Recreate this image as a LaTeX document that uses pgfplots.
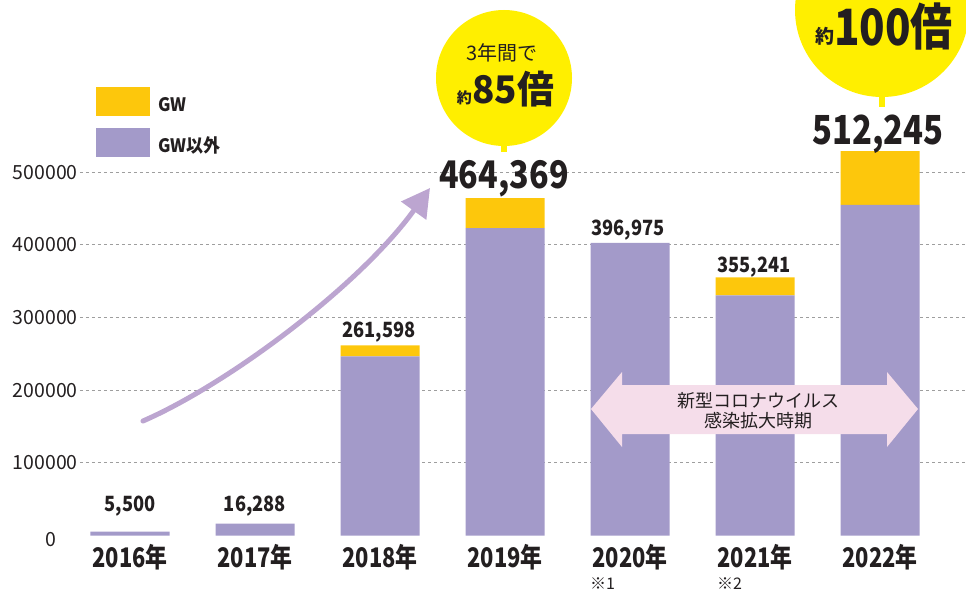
\documentclass[border=0pt]{standalone}
\usepackage{fontspec}
\setmainfont{Noto Sans CJK JP}
\usepackage{graphicx}
\usepackage{pgfplots}
\pgfplotsset{compat=1.18}
\usetikzlibrary{arrows.meta}
\definecolor{purp}{HTML}{A39AC9}
\definecolor{gold}{HTML}{FDC70C}
\definecolor{yel}{HTML}{FFEF00}
\definecolor{arrowc}{HTML}{BCA5D0}
\definecolor{pinkc}{HTML}{F5DDEA}
\definecolor{txt}{HTML}{231F20}
\definecolor{gridc}{HTML}{9E9E9E}
\newcommand\fs[1]{\fontsize{#1}{#1}\selectfont}
\newcommand\sx[2]{\scalebox{#1}[1]{#2}}
\newcommand\xl[1]{\sx{0.81}{#1}}
\begin{document}
\begin{tikzpicture}[every node/.append style={text=txt}]
\begin{axis}[
  scale only axis, width=886pt, height=535.5pt,
  xmin=-0.4, xmax=6.688, ymin=0, ymax=737200,
  ybar stacked, bar width=79pt,
  axis line style={draw=none},
  major tick length=0pt,
  xtick={0,1,2,3,4,5,6},
  xticklabels={\xl{2016年},\xl{2017年},\xl{2018年},\xl{2019年},\xl{2020年},\xl{2021年},\xl{2022年}},
  xticklabel style={anchor=base, inner sep=0pt, yshift=-31.5pt, font=\fs{27}\bfseries},
  ytick={100000,200000,300000,400000,500000},
  yticklabels={100000,200000,300000,400000,500000},
  yticklabel style={anchor=east, inner sep=0pt, xshift=-2pt, font=\fs{19.5}},
  ymajorgrids,
  major grid style={draw=gridc, line width=1pt, dash pattern=on 3pt off 3pt},
  legend style={at={(0.01806,0.8381)}, anchor=north west, draw=none, fill=none,
    inner sep=0pt, outer sep=0pt, column sep=8pt, row sep=12.7pt,
    font=\fs{18.5}\bfseries, nodes={inner sep=0pt, anchor=base west}},
  reverse legend,
]
\addplot[fill=purp, draw=none,
  legend image code/.code={\fill[purp] (0pt,-4.5pt) rectangle (54pt,24.5pt);}]
  coordinates {(0,5500) (1,16288) (2,246500) (3,423000) (4,403000) (5,330741) (6,455000)};
\addlegendentry{\sx{0.92}{GW以外}}
\addplot[fill=gold, draw=none,
  legend image code/.code={\fill[gold] (0pt,-4.5pt) rectangle (54pt,24.5pt);}]
  coordinates {(0,0) (1,0) (2,15098) (3,41369) (4,0) (5,24500) (6,74300)};
\addlegendentry{\sx{0.92}{GW}}
\draw[gridc, line width=1pt, dash pattern=on 3pt off 3pt] (axis cs:5.684,500000) -- (axis cs:6.316,500000);
\coordinate (O) at (rel axis cs:0,1);
\end{axis}
\pgfresetboundingbox
\begin{scope}[shift={([xshift=-80pt]O)}, x=1pt, y=-1pt]
\path[use as bounding box] (0,0) rectangle (966,590);
% growth arrow
\draw[arrowc, line width=5pt, line cap=round, -{Triangle[length=28pt, width=30pt]}]
  (143,421) .. controls (230,383) and (360,285) .. (430,188);
% covid double arrow
\fill[pinkc] (591,409) -- (622,372) -- (622,385) -- (887,385) -- (887,372) -- (918,409)
  -- (887,447) -- (887,434) -- (622,434) -- (622,447) -- cycle;
\node[align=center, inner sep=0pt, font=\fontsize{18}{20.5}\selectfont] at (758,410.5) {新型コロナウイルス\\感染拡大時期};
% bubbles
\begin{scope}
\clip (0,0) rectangle (966,590);
\fill[yel] (504,78) circle[radius=68pt];
\fill[yel] (501,140) rectangle (507,152);
\fill[yel] (882,10) circle[radius=87pt];
\fill[yel] (879,95) rectangle (885,107);
\end{scope}
\node[anchor=base, inner sep=0pt, font=\fs{20}] at (502,61) {3年間で};
\node[anchor=base east, inner sep=0pt, font=\fs{15}\bfseries] at (472,104) {約};
\node[anchor=base west, inner sep=0pt, font=\fs{38}\bfseries] at (472,104) {\sx{0.97}{85倍}};
\node[anchor=base east, inner sep=0pt, font=\fs{19}\bfseries] at (835,44) {約};
\node[anchor=base west, inner sep=0pt, font=\fs{50}\bfseries] at (834,46) {\sx{0.84}{100倍}};
% value labels
\node[anchor=base, inner sep=0pt, font=\fs{21}\bfseries] at (130,511) {\sx{0.87}{5,500}};
\node[anchor=base, inner sep=0pt, font=\fs{21}\bfseries] at (255,511) {\sx{0.87}{16,288}};
\node[anchor=base, inner sep=0pt, font=\fs{21}\bfseries] at (379,337) {\sx{0.87}{261,598}};
\node[anchor=base, inner sep=0pt, font=\fs{38}\bfseries] at (504,188) {\sx{0.85}{464,369}};
\node[anchor=base, inner sep=0pt, font=\fs{21}\bfseries] at (628,235) {\sx{0.87}{396,975}};
\node[anchor=base, inner sep=0pt, font=\fs{21}\bfseries] at (754,272) {\sx{0.87}{355,241}};
\node[anchor=base, inner sep=0pt, font=\fs{40}\bfseries] at (878,145) {\sx{0.82}{512,245}};
% zero label and notes
\node[anchor=base, inner sep=0pt, font=\fs{19.5}] at (51,546.5) {0};
\node[anchor=base west, inner sep=0pt, font=\fs{16}] at (590,589) {※1};
\node[anchor=base west, inner sep=0pt, font=\fs{16}] at (717,589) {※2};
\end{scope}
\end{tikzpicture}
\end{document}
